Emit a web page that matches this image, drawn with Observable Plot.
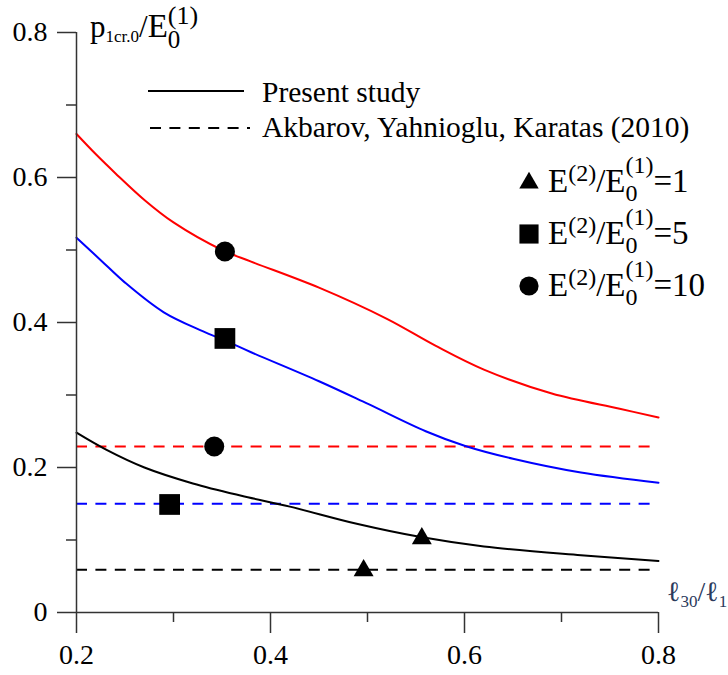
<!DOCTYPE html>
<html><head><meta charset="utf-8">
<script src="https://cdn.jsdelivr.net/npm/d3@7"></script>
<script src="https://cdn.jsdelivr.net/npm/@observablehq/plot@0.6"></script>
<style>html,body{margin:0;padding:0;background:#fff} svg{display:block}</style>
</head><body><div id="chart"></div>
<script>
// ---- data ----
const xDomain = [0.2, 0.8];
const yDomain = [0, 0.8];
const xTicks = [0.2, 0.4, 0.6, 0.8];
const xMinor = [0.3, 0.5, 0.7];
const yTicks = [0, 0.2, 0.4, 0.6, 0.8];
const yMinor = [0.1, 0.3, 0.5, 0.7];

// Present study curves
const redX = [0.20, 0.22, 0.24, 0.27, 0.30, 0.35, 0.38, 0.45, 0.52, 0.57, 0.62, 0.69, 0.76, 0.80];
const redY = [0.660, 0.632, 0.606, 0.569, 0.538, 0.500, 0.484, 0.448, 0.405, 0.368, 0.335, 0.302, 0.281, 0.269];
const blueX = [0.20, 0.225, 0.25, 0.29, 0.33, 0.355, 0.38, 0.45, 0.50, 0.56, 0.60, 0.65, 0.72, 0.80];
const blueY = [0.517, 0.486, 0.455, 0.414, 0.388, 0.374, 0.359, 0.319, 0.288, 0.250, 0.230, 0.212, 0.193, 0.179];
const blackX = [0.20, 0.23, 0.27, 0.32, 0.37, 0.42, 0.49, 0.555, 0.62, 0.72, 0.80];
const blackY = [0.248, 0.225, 0.200, 0.178, 0.161, 0.146, 0.122, 0.104, 0.091, 0.079, 0.071];

// Akbarov, Yahnioglu, Karatas (2010) levels (E2/E0 = 1, 5, 10)
const akbarovLevels = [0.059, 0.150, 0.229];
const seriesColors = ["#000000", "#0000ff", "#ff0000"];

// marker points for E(2)/E0(1) = 1, 5, 10
const ratios = [1, 5, 10];
const shapes = ["triangle", "square", "circle"];
const presentPtX = [0.556, 0.353, 0.353];
const presentPtY = [0.102, 0.378, 0.498];
const akbPtX = [0.496, 0.296, 0.342];
const akbPtY = [0.058, 0.149, 0.229];

const legendLabels = ["Present study", "Akbarov, Yahnioglu, Karatas (2010)"];

// ---- build ----
const serif = "'Liberation Serif', 'Times New Roman', 'DejaVu Serif', serif";
const toRows = (xs, ys) => xs.map((x, i) => ({x, y: ys[i]}));
const curves = [toRows(blackX, blackY), toRows(blueX, blueY), toRows(redX, redY)];
const symR = {triangle: 7.4, square: 11.7, circle: 10};
const axisColor = "#333";

const marks = [];
akbarovLevels.forEach((v, i) => {
  marks.push(Plot.ruleY([v], {x1: xDomain[0], x2: xDomain[1], stroke: seriesColors[i], strokeWidth: 2, strokeDasharray: "11,8.4"}));
});
curves.forEach((rows, i) => {
  marks.push(Plot.line(rows, {x: "x", y: "y", stroke: seriesColors[i], strokeWidth: 2, curve: "catmull-rom"}));
});
marks.push(
  Plot.ruleX([xDomain[0]], {y1: yDomain[0], y2: yDomain[1], stroke: axisColor, strokeWidth: 1.5}),
  Plot.ruleY([yDomain[0]], {x1: xDomain[0], x2: xDomain[1], stroke: axisColor, strokeWidth: 1.5}),
  Plot.axisY({ticks: yTicks, tickSize: 19, tickPadding: 10, tickFormat: d => String(d), fontSize: 28, stroke: axisColor, fill: "#000", strokeWidth: 1.5, label: null}),
  Plot.axisY({ticks: yMinor, tickSize: 10, tickFormat: () => "", stroke: axisColor, strokeWidth: 1.5, label: null}),
  Plot.axisX({ticks: xTicks, tickSize: 21, tickPadding: 11, tickFormat: d => String(d), fontSize: 28, stroke: axisColor, fill: "#000", strokeWidth: 1.5, label: null}),
  Plot.axisX({ticks: xMinor, tickSize: 10, tickFormat: () => "", stroke: axisColor, strokeWidth: 1.5, label: null})
);
shapes.forEach((s, i) => {
  const pts = [{x: presentPtX[i], y: presentPtY[i]}, {x: akbPtX[i], y: akbPtY[i]}];
  marks.push(Plot.dot(pts, {x: "x", y: "y", symbol: s, r: symR[s], fill: "#000", stroke: "none"}));
});

const plot = Plot.plot({
  width: 728, height: 675,
  marginLeft: 76, marginRight: 70, marginTop: 32, marginBottom: 63,
  x: {domain: xDomain, label: null},
  y: {domain: yDomain, label: null},
  style: {fontFamily: serif, fontSize: "28px", color: "#000", background: "#fff"},
  marks
});
document.getElementById("chart").appendChild(plot);

// ---- annotations (rich text) ----
const svg = d3.select(plot);
function rich(x, y, parts, fill = "#000") {
  const g = svg.append("g").attr("font-family", serif).attr("fill", fill).attr("text-anchor", "start");
  let cx = x;
  for (const p of parts) {
    const items = p.stack || [p];
    let w = 0;
    for (const q of items) {
      const t = g.append("text").attr("x", cx).attr("y", y + (q.dy || 0))
        .attr("font-size", q.size).text(q.t);
      w = Math.max(w, t.node().getComputedTextLength());
    }
    cx += w;
  }
  return g;
}

// y-axis label  p_{1cr.0}/E_0^{(1)}
rich(90, 37, [
  {t: "p", size: 31},
  {t: "1cr.0", size: 17, dy: 5},
  {t: "/", size: 31},
  {t: "E", size: 33},
  {stack: [{t: "(1)", size: 26, dy: -13}, {t: "0", size: 25, dy: 11}]}
]);

// x-axis label  ℓ30/ℓ1
rich(667, 601, [
  {t: "\u2113", size: 28},
  {t: "30", size: 17, dy: 6},
  {t: "/", size: 28},
  {t: "\u2113", size: 28},
  {t: "1", size: 17, dy: 6}
], "#2b3a5c");

// line legend
svg.append("line").attr("x1", 148).attr("x2", 244).attr("y1", 91).attr("y2", 91)
  .attr("stroke", "#000").attr("stroke-width", 2);
svg.append("line").attr("x1", 150).attr("x2", 250).attr("y1", 128).attr("y2", 128)
  .attr("stroke", "#000").attr("stroke-width", 2).attr("stroke-dasharray", "11,8.4");
const lg = svg.append("g").attr("font-family", serif).attr("font-size", 29.5).attr("text-anchor", "start").attr("fill", "#000");
lg.append("text").attr("x", 262).attr("y", 102).text(legendLabels[0]);
lg.append("text").attr("x", 262).attr("y", 137).text(legendLabels[1]);

// marker legend
const symMap = {triangle: d3.symbolTriangle, square: d3.symbolSquare, circle: d3.symbolCircle};
const legR = {triangle: 7.2, square: 10.8, circle: 9.6};
shapes.forEach((s, i) => {
  const yb = 192 + i * 52;
  svg.append("path")
    .attr("d", d3.symbol(symMap[s], Math.PI * legR[s] * legR[s])())
    .attr("transform", `translate(529,${yb - 10 + (s === "triangle" ? 1 : 0)})`)
    .attr("fill", "#000");
  rich(548, yb, [
    {t: "E", size: 33},
    {t: "(2)", size: 24, dy: -11},
    {t: "/", size: 33},
    {t: "E", size: 33},
    {stack: [{t: "(1)", size: 24, dy: -19}, {t: "0", size: 24, dy: 9}]},
    {t: "=" + ratios[i], size: 33}
  ]);
});
</script>
</body></html>
